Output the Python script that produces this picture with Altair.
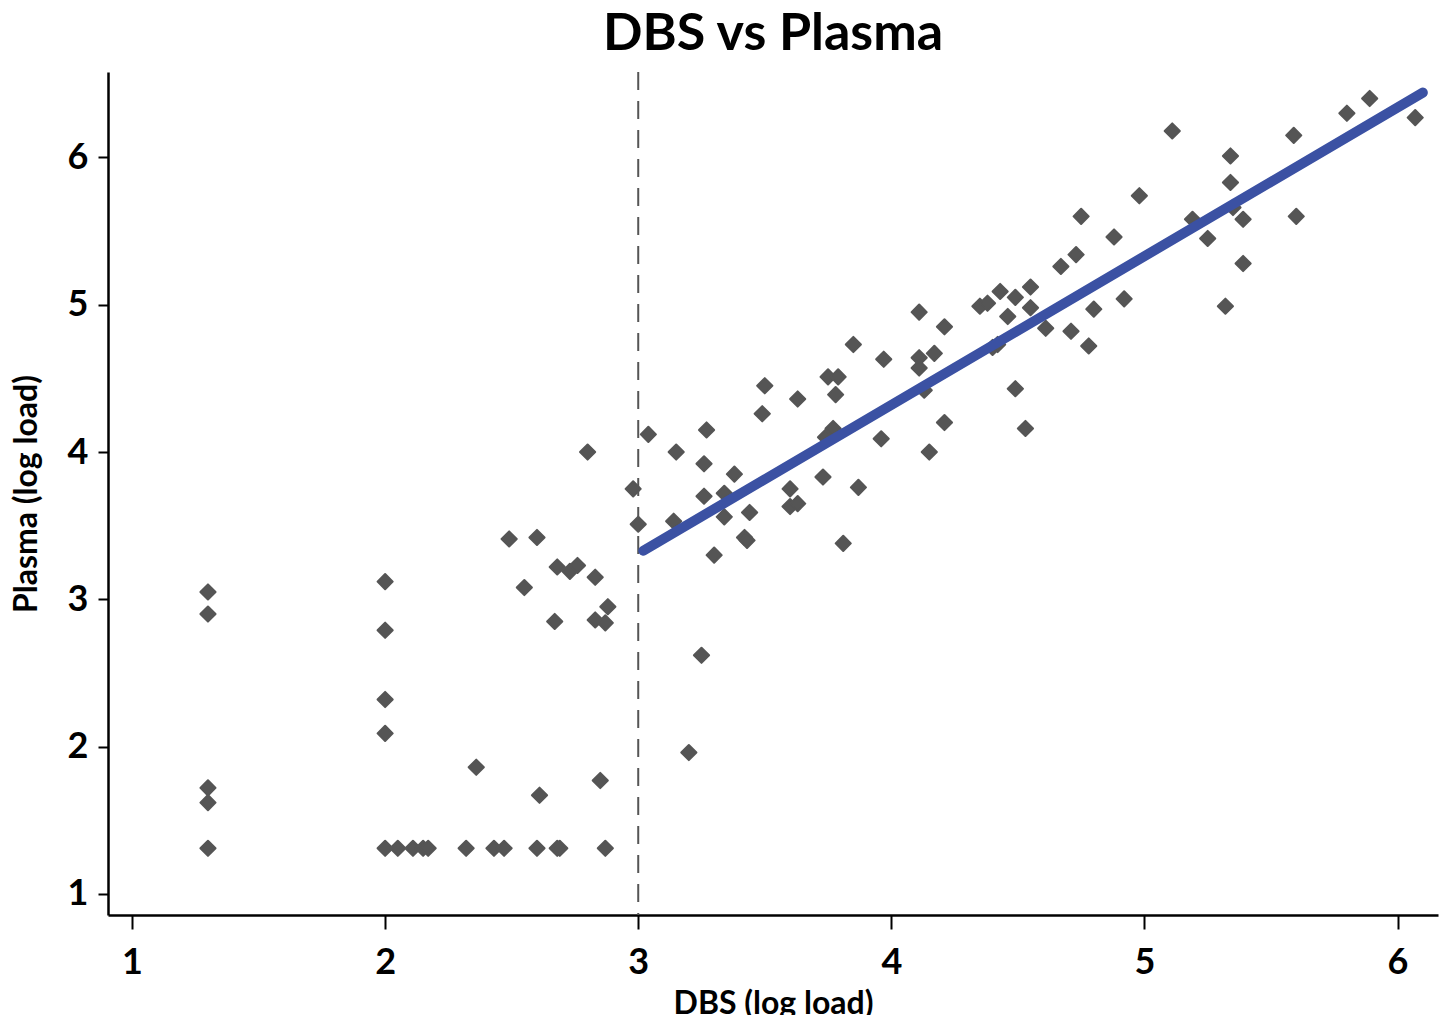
import altair as alt
import pandas as pd

dbs = [1.30, 1.30, 1.30, 1.30, 1.30,
       2.00, 2.00, 2.00, 2.00,
       2.00, 2.05, 2.11, 2.15, 2.17, 2.32, 2.43, 2.47, 2.60, 2.68, 2.69, 2.87,
       2.36, 2.61, 2.85,
       2.55, 2.67, 2.83, 2.88, 2.83, 2.87,
       2.68, 2.73, 2.76,
       2.80, 2.49, 2.60,
       2.98, 3.00,
       3.04, 3.15, 3.27, 3.49, 3.50, 3.63, 3.78,
       3.26, 3.38, 3.26, 3.34, 3.14, 3.34, 3.44, 3.42, 3.43, 3.30,
       3.60, 3.60, 3.63, 3.73, 3.87, 3.81, 3.96, 3.77, 3.74,
       3.25, 3.20,
       4.11, 4.35, 4.38, 4.21, 4.46, 4.55, 4.61, 4.71,
       3.85, 3.97, 4.11, 4.11, 4.17, 3.75, 3.79, 4.13, 4.21, 4.15, 4.49, 4.53, 4.40,
       4.98, 4.75, 4.88, 4.73, 4.67, 5.34, 5.39, 5.39, 5.19, 5.25, 5.32, 4.43, 4.55,
       4.49, 4.78, 4.80, 4.92, 4.42,
       5.11, 5.34, 5.59, 5.80, 5.89, 6.07, 5.60, 5.35]
plasma = [3.05, 2.90, 1.72, 1.62, 1.31,
          3.12, 2.79, 2.32, 2.09,
          1.31, 1.31, 1.31, 1.31, 1.31, 1.31, 1.31, 1.31, 1.31, 1.31, 1.31, 1.31,
          1.86, 1.67, 1.77,
          3.08, 2.85, 3.15, 2.95, 2.86, 2.84,
          3.22, 3.19, 3.23,
          4.00, 3.41, 3.42,
          3.75, 3.51,
          4.12, 4.00, 4.15, 4.26, 4.45, 4.36, 4.39,
          3.92, 3.85, 3.70, 3.72, 3.53, 3.56, 3.59, 3.42, 3.40, 3.30,
          3.75, 3.63, 3.65, 3.83, 3.76, 3.38, 4.09, 4.16, 4.10,
          2.62, 1.96,
          4.95, 4.99, 5.01, 4.85, 4.92, 4.98, 4.84, 4.82,
          4.73, 4.63, 4.64, 4.57, 4.67, 4.51, 4.51, 4.42, 4.20, 4.00, 4.43, 4.16, 4.71,
          5.74, 5.60, 5.46, 5.34, 5.26, 5.83, 5.58, 5.28, 5.58, 5.45, 4.99, 5.09, 5.12,
          5.05, 4.72, 4.97, 5.04, 4.73,
          6.18, 6.01, 6.15, 6.30, 6.40, 6.27, 5.60, 5.66]

fit_x = [3.02, 6.10]
fit_y = [3.33, 6.44]
cutoff = [3.0]

pts = pd.DataFrame({"dbs": dbs, "plasma": plasma})
fit = pd.DataFrame({"dbs": fit_x, "plasma": fit_y})
cut = pd.DataFrame({"dbs": cutoff})

FONT = "Lato"
xs = alt.Scale(domain=[0.905, 6.16], nice=False, zero=False)
ys = alt.Scale(domain=[0.857, 6.58], nice=False, zero=False)

xaxis = alt.Axis(values=[1, 2, 3, 4, 5, 6], format="d", title="DBS (log load)", grid=False,
                 domainColor="black", domainWidth=2.5, tickColor="black", tickWidth=2,
                 tickSize=14, labelFont=FONT, labelFontSize=36, labelFontWeight="bold",
                 labelColor="black", labelPadding=16, titleFont=FONT, titleFontSize=32,
                 titleFontWeight="bold", titleColor="black", titlePadding=8)
yaxis = alt.Axis(values=[1, 2, 3, 4, 5, 6], format="d", title="Plasma (log load)", grid=False,
                 domainColor="black", domainWidth=2.5, tickColor="black", tickWidth=2,
                 tickSize=10, labelFont=FONT, labelFontSize=36, labelFontWeight="bold",
                 labelColor="black", labelPadding=10, titleFont=FONT, titleFontSize=32,
                 titleFontWeight="bold", titleColor="black", titlePadding=24)

points = alt.Chart(pts).mark_point(shape="diamond", filled=True, size=230,
                                   color="#555555", opacity=1,
                                   stroke="#555555", strokeWidth=2,
                                   strokeJoin="round").encode(
    x=alt.X("dbs:Q", scale=xs, axis=xaxis),
    y=alt.Y("plasma:Q", scale=ys, axis=yaxis),
)

rule = alt.Chart(cut).mark_rule(color="#555555", strokeWidth=2,
                                strokeDash=[18, 11]).encode(x=alt.X("dbs:Q", scale=xs))

line = alt.Chart(fit).mark_line(color="#3B51A3", strokeWidth=10,
                                strokeCap="round").encode(
    x=alt.X("dbs:Q", scale=xs), y=alt.Y("plasma:Q", scale=ys))

chart = alt.layer(rule, points, line).properties(
    width=1330, height=843,
    title=alt.TitleParams("DBS vs Plasma", font=FONT, fontSize=52, fontWeight="bold",
                          color="black", anchor="middle", offset=10),
    autosize=alt.AutoSizeParams(type="none"),
    padding={"left": 100, "top": 64, "right": 2, "bottom": 100},
).configure_view(stroke=None)

chart.save("out.html", embed_options={"renderer": "svg", "actions": False})
